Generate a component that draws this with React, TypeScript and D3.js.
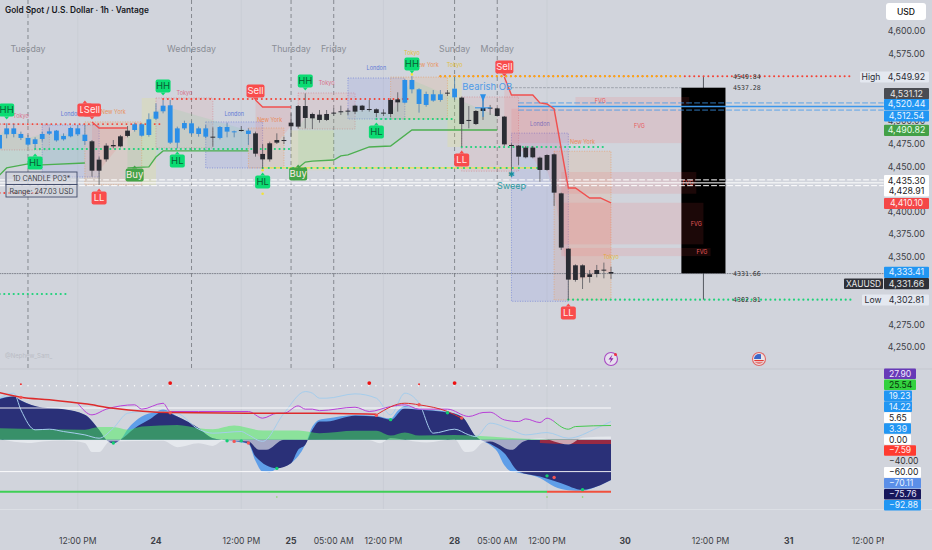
import * as d3 from 'd3';

// price candles, one row per hourly bar: open, high, low, close
const candles: number[][] = [
  [4470,4492,4466,4485],[4485.7,4497.9,4481.3,4492.3],[4486.1,4497.1,4482.4,4492.3],[4481.7,4488.7,4479.4,4486.1],
  [4474.3,4485,4472.1,4481.7],[4475,4482.4,4470.2,4480.2],[4480.6,4488.7,4477.6,4486.1],[4486.4,4493,4485,4489],
  [4479,4490.5,4477.6,4489.8],[4480.2,4486.8,4478.7,4483.9],[4483.5,4494.2,4482.4,4492.7],[4485.7,4496,4483.9,4492.3],
  [4478.3,4496,4473.9,4485.3],[4478,4479.4,4438.9,4445.5],[4457.7,4461,4429.7,4445.5],[4473.2,4475.8,4455.5,4458],
  [4473.9,4479.4,4470.2,4472.4],[4483.5,4485,4471.3,4472.4],[4489.8,4494.9,4482.4,4483.9],[4490.5,4498.6,4488.7,4496.8],
  [4484.2,4497.9,4483.1,4496.8],[4485,4508.9,4483.1,4502.3],[4503,4520,4501.6,4510.8],[4511.2,4523.7,4508.9,4517.4],
  [4476.5,4523.7,4475,4517.8],[4476.5,4494.2,4470.2,4492.3],[4492.3,4500.8,4490.5,4498.2],[4486.8,4500.8,4484.6,4497.9],
  [4486.1,4494.2,4483.1,4492.3],[4483.1,4496,4481.3,4492.3],[4483.1,4493.5,4472.1,4482.4],[4481.7,4494.9,4480.2,4493.8],
  [4488.7,4498.6,4482.4,4493.8],[4487.9,4489.8,4482.4,4489],[4490.5,4494.9,4488.7,4489.8],[4486.1,4492.3,4473.9,4489.8],
  [4486.8,4488.7,4461,4464.3],[4464,4475,4448,4458],[4475.8,4477.6,4455.5,4458],[4479.4,4486.8,4475,4476.5],
  [4479.4,4483.1,4475,4478.3],[4498.6,4508.9,4483.1,4494.6],[4517,4518.2,4492.3,4494.2],[4517,4531,4492.3,4503.8],
  [4508.2,4509.7,4491.6,4503.4],[4507.5,4512.6,4498.6,4501.6],[4508.2,4512.6,4500.5,4501.6],[4509.7,4514.4,4506,4508.9],
  [4511.2,4517.4,4507.1,4510.4],[4511.9,4514.4,4507.1,4511.2],[4517.4,4518.2,4508.2,4510.8],[4517.4,4518.2,4510.8,4512.6],
  [4513.7,4523.7,4510.8,4512.6],[4513.4,4514.4,4504.5,4509.3],[4509.7,4513.4,4506,4508.9],[4523.7,4525.5,4504.5,4508.2],
  [4524.4,4532.2,4510.8,4521.1],[4520.7,4546.5,4520,4545.8],[4535.5,4550.2,4531,4545.8],[4519.3,4536.6,4509.7,4535.5],
  [4518.2,4532.9,4516.3,4530.3],[4523,4534.7,4521.8,4530],[4523.7,4534.7,4521.8,4530],[4531.8,4534.7,4528.1,4530.7],
  [4526.6,4549.5,4523.7,4536.2],[4526.3,4527.4,4472.1,4497.1],[4501.6,4517,4492.3,4500.8],[4511.5,4512.6,4496,4497.1],
  [4514.8,4529.2,4501.6,4511.5],[4515.2,4518.2,4507.1,4514.4],[4514.4,4515.2,4505.3,4506],[4505.3,4506,4472.8,4474.6],
  [4473.9,4475.8,4445.5,4473.2],[4473.2,4473.9,4451.8,4461],[4471,4472.8,4459.2,4460.3],[4471,4472.8,4459.2,4460.3],
  [4459.9,4461,4433.3,4446.3],[4462.8,4463.6,4445.5,4446.3],[4463.6,4464.7,4406.4,4421.2],[4420.4,4421.2,4357.8,4360.4],
  [4359.2,4359.6,4302.5,4325],[4340.8,4341.9,4322.7,4324.6],[4340.8,4341.9,4314.6,4327.5],[4330.9,4335.6,4321.6,4327.9],
  [4335.6,4341.2,4327.5,4331.2],[4336,4343.8,4326.4,4335],[4333.4,4339.3,4325.7,4331.66],
];

// daily candle drawn to the right of the bars
const po3Bar = 99;
const po3Half = 3.1;
const po3 = {open: 4537.28, high: 4549.92, low: 4302.81, close: 4331.66};

// session boxes: name, first bar, last bar, top price, bottom price
const sessions: [string, number, number, number, number][] = [
  ['tokyo',0,7,4497.1,4468.4],['london',6,14,4496,4438.5],['ny',12,20,4499.4,4429.7],['asia',20,22,4525.9,4429.7],
  ['tokyo',22,30,4525.9,4470.6],['london',29,37,4499.4,4448.5],['ny',35,40,4492.7,4448.5],['asia',41,47,4490,4446],
  ['tokyo',42,50,4531.4,4491.6],['london',49,57,4548,4502.7],['ny',55,63,4549,4502.7],['asia',63,65,4549,4471.7],
  ['tokyo',65,73,4527,4445],['london',72,80,4487,4301],['ny',78,86,4467,4302.5],
];
const sessionLabels: [string, number, number][] = [
  ['Tokyo',3,4504],['London',10,4506],['New York',16,4508],['Tokyo',26,4529],['London',33,4506],['New York',38,4499],
  ['Tokyo',46,4540],['London',53,4557],['Tokyo',58,4573],['New York',60,4560],['Tokyo',64,4560],['London',76,4495],['New York',82,4475],['Tokyo',86,4348],
];
const yellowLabelBars = [58, 64, 86];

// fair value gaps: first bar, last bar, top, bottom, label, label bar
const fvgs: [number, number, number, number, string, number][] = [
  [81,97,4527,4518,'FVG',84.5],[72,96,4514,4476,'FVG',90],[79,98,4444,4420,'FVG',96.8],
  [79,99,4410,4364,'FVG',98],[79,100,4360,4351,'FVG',98.8],
];

// stair lines as bar, price
const supportLines: number[][][] = [
  [[0,4440.7],[1,4448.5],[4,4452.9],[6,4451.8],[12,4454]],
  [[18,4448.5],[21,4449.6],[22,4460.6],[23,4467.3],[35,4467.3]],
  [[42,4448.5],[43,4455],[44,4456],[47,4457.3],[48,4461.8],[49,4462.9],[52,4471.7],[55,4472.8],[58,4490.5],[70,4490.5]],
];
const resistLines: number[][][] = [
  [[13,4499.4],[14,4492.7],[18,4492.7]],
  [[36,4523.7],[37,4516],[41,4516]],
  [[71,4549.1],[72,4529.2],[75,4529.2],[76,4520.4],[77,4519.3],[78,4513.7],[80,4426.4],[81,4426.4],[83,4415.3],[84.5,4415.3],[86,4409.8]],
];

const dots = '0.1 4.6';

// horizontal levels: price, first bar, last bar, colour, dash, width
const levels: [number, number, number, string, string, number][] = [
  [4497,0,23,'#f44336',dots,1.9],[4524.8,23,58,'#f44336',dots,1.9],[4420.8,0,5.5,'#f44336',dots,1.9],
  [4549.92,62,120,'#f44336',dots,2],[4549.92,62,96,'#ffb300',dots,2],
  [4469.5,5,41,'#1fd27a',dots,2.1],[4502.7,53,64,'#1fd27a',dots,2.1],[4471.7,65,85,'#1fd27a',dots,2.1],
  [4448.5,37,76,'#e9e34a','',1.2],[4448.5,37,76,'#1fd27a','0.1 6',2.1],
  [4309.1,0,9.5,'#1fd27a',dots,2.1],[4302.81,80,120,'#1fd27a',dots,2.1],
  [4537.28,72,96,'#8a8f99','2 2',0.7],[4331.66,0,124.3,'#6b6f78','1 1.5',0.8],
  [4520.44,73,124.3,'#3d97ea','5 3',0.8],[4516.5,73,124.3,'#3d97ea','',1.4],[4512.54,73,124.3,'#3d97ea','5 3',0.8],
  [4435.3,0,124.3,'#ffffff','5 3',1],[4432,0,124.3,'#ffffff','',1],[4428.91,0,124.3,'#ffffff','5 3',1],
];

// swing and signal tags: text, bar, price
const tags: [string, number, number][] = [
  ['LL',12,4512.6],['HH',1,4512.6],['HH',23,4539.2],['HH',43,4544.7],['HH',58,4563.5],
  ['HL',5,4454],['HL',25,4456.2],['HL',37,4433],['HL',53,4488.3],
  ['LL',14,4415.3],['LL',65,4457.3],['LL',80,4288],
  ['Sell',13,4512.6],['Sell',36,4533.6],['Sell',71,4560.2],['Buy',19,4440.7],['Buy',42,4441.8],
];
const yellowMarks = [[37,4446],[37,4420],[58,4552]];

const dayBars = [4, 27, 41, 47, 64, 70];
const dayNames = ['Tuesday', 'Wednesday', 'Thursday', 'Friday', 'Sunday', 'Monday'];
const timeBars = [11, 22, 34, 41, 47, 54, 64, 70, 77, 88, 100, 111, 122.5];
const timeNames = ['12:00 PM', '24', '12:00 PM', '25', '05:00 AM', '12:00 PM', '28', '05:00 AM', '12:00 PM', '30', '12:00 PM', '31', '12:00 PM'];
const boldTimes = ['24', '25', '28', '30', '31'];

const priceTicks = [4600, 4575, 4500, 4475, 4450, 4400, 4375, 4350, 4275, 4250];

// right side price tags: text, price for y, fill, text colour
const priceTags: [string, number, string, string][] = [
  ['4,531.12',4530.7,'#4a4c52','#e8e8e8'],['4,520.44',4518.7,'#2196f3','#eaf4ff'],['4,512.54',4506,'#2196f3','#eaf4ff'],
  ['4,490.82',4490,'#43a047','#e8ffe8'],['4,435.30',4434.5,'#ffffff','#222'],['4,428.91',4423,'#ffffff','#222'],
  ['4,410.10',4409.2,'#f44747','#ffecec'],['4,333.41',4333,'#2196f3','#eaf4ff'],['4,331.66',4320.6,'#2e3038','#e8e8e8'],
];

// oscillator pane, bar and value pairs
const leadWave = [[0,78],[2,82],[3,74],[6,60],[9,57],[12,47],[14,18],[15,0],[16,-6],[17,0],[18,20],[20,44],[22,53],[23,57],[25,44],[28,22],[30,3],[32,-1],[34,-5],[35,-8],[36,-40],[37,-60],[38,-61],[39,-54],[41,-44],[43,-9],[44,25],[45,38],[46,40],[50,47],[53,45],[55,40],[56,55],[57,64],[59,58],[63,53],[65,44],[67,6],[69,-10],[70,-22],[71,-48],[72,-60],[73,-62],[76,-72],[78,-88],[80,-95],[82,-96],[84,-88],[86,-76]];
const mainWave = [[0,76.6],[2,81.7],[3,74.1],[6,60.9],[9,57.8],[12,47.1],[14,18.8],[15,0],[16,-6.4],[17,0],[19,22],[21,37.6],[23,53.4],[25,43.9],[28,22],[30,3],[32,-1],[35,-6.4],[36,-31.5],[39,-53.6],[41,-44.1],[42,-19],[43,-9.5],[44,18.8],[45,34.5],[46,34.5],[50,45.2],[53,43.9],[55,37.6],[57,59.7],[59,56.5],[63,51.5],[65,43.9],[67,6.2],[69,-7.6],[71,-25.3],[73,-59.8],[76,-69.3],[79,-81.9],[82,-94.4],[84,-88.2],[86,-75.76]];
const greenBand = [[0,22],[6,20],[12,19],[14,24],[16,24],[18,19],[20,25],[25,28],[28,22],[30,20],[33,27],[37,17.5],[42,17.5],[45,12.5],[50,17],[53,17],[55,8],[57,14],[59,8],[64,9],[67,7.5],[76,1],[86,0]];
const paleBand = [[0,1],[4,-6],[6,-3],[9,-1.5],[12,-6],[13,-23],[14,-23],[15.5,-3],[23,-2],[25,-14],[28,-6.5],[30,-11.5],[31.5,-2],[35,-3],[36.5,-19],[37.5,-19],[40,0],[52,-1],[53.5,-6.5],[55,3],[60,-5],[64,1],[65.5,-23],[66.5,-22],[68,-5],[69,-3],[72,-19],[73.7,-3],[76,3],[80,-9],[82,4],[86,6]];
const paleLine = [[0,78.5],[2,88],[3,56.5],[5,18.8],[7,20],[9,15.6],[12,9.3],[14,3],[16,22],[18,50],[20,53],[23,53],[25,50],[28,20],[30,12.5],[34,15.6],[35,9.3],[37,-3],[40,50],[43,91],[44,88],[45,78.5],[46,78.5],[50,86.7],[53,78.5],[55,47],[57,88],[59,69],[61,12.5],[64,20],[66,9.3],[67,6],[69,31.4],[72,18.8],[74,9.3],[77,13.7],[80,3],[84,22],[86,34.5]];
const purpleLine = [[11,69],[13,47],[15,57.8],[19,66],[20,57.8],[23,69],[24,53.4],[28,53.4],[35,53.4],[37,40.8],[39,50],[40,50],[42,64],[43,57.8],[44,57.8],[45,55],[50,61.5],[52,53.4],[55,62.8],[57,66],[59,57.8],[63,57.8],[66,44],[68,51.5],[69,52],[71,37.6],[73,34.5],[74,39.5],[76,32.6],[77,40.8],[78,34.5]];
const greenTail = [[78,34.5],[80,20],[81,25],[86,27]];
const redSlow = [[0,89],[3,80.4],[7,75.4],[12,67.8],[16,59.7],[24,51.5],[35,50.2],[45,50.2],[53,48.3]];
const redFast = [[53,47],[57,69],[59,66],[63,53.4],[65,40.8]];
const redBand = [[76,-6],[80,-8],[86,-8]];
const redDots = [[3,80],[24,51],[33,-3],[35,-6],[53,46],[59,66],[65,41],[78,-71]];
const greenDots = [[16,-6],[32,-2],[34,-2],[39,-54],[55,38],[63,51],[77,-68],[82,-94]];
const greenTicks = [39, 77, 82];
const bigTopDots = [24, 52, 64];
const smallTopDots = [3, 59];

// stacked tags on the right of the oscillator: text, fill, text colour, tag width
const oscTags: [string, string, string, number][] = [
  ['27.90','#673ab7','#f3eaff',32],['25.54','#33d13f','#06340a',32],['19.23','#2196f3','#eaf4ff',28],['14.22','#2196f3','#eaf4ff',28],
  ['5.65','#ffffff','#222',27],['3.39','#2196f3','#eaf4ff',27],['0.00','#ffffff','#222',27],['−7.59','#ff3b30','#ffecec',32],
  ['−40.00','none','#333',37],['−60.00','#ffffff','#222',37],['−70.11','#5b8fe8','#eaf4ff',37],['−75.76','#17175c','#e6e6ff',37],['−92.88','#2196f3','#eaf4ff',37],
];

const W = 932;
const H = 550;
const axisX = 884;
const uiFont = 'Inter, "Open Sans", sans-serif';
const monoFont = '"DejaVu Sans Mono", monospace';

// bar index to pixel, and the two value scales
const x = d3.scaleLinear().domain([0, 86]).range([-0.44, 611]);
const y = d3.scaleLinear().domain([4600, 4250]).range([31, 347.4]);
const osc = d3.scaleLinear().domain([60, -60]).range([408, 471.6]);

const priceLine = d3.line<number[]>().x(d => x(d[0])).y(d => y(d[1]));
const oscLine = d3.line<number[]>().x(d => x(d[0])).y(d => osc(d[1])).curve(d3.curveMonotoneX);
const oscArea = d3.area<number[]>().x(d => x(d[0])).y0(osc(0)).y1(d => osc(d[1])).curve(d3.curveMonotoneX);
const closeOf = (b: number) => candles[Math.min(86, Math.round(b))][3];
const stairArea = d3.area<number[]>().x(d => x(d[0])).y0(d => y(d[1])).y1(d => y(closeOf(d[0])));

const sessionColor: {[key: string]: [string, string]} = {
  tokyo: ['rgba(240,150,140,0.14)', '#d58a95'],
  london: ['rgba(110,130,235,0.14)', '#6f7fd8'],
  ny: ['rgba(250,160,90,0.15)', '#e6a06a'],
  asia: ['rgba(235,235,110,0.2)', 'none'],
};
const sessionText: {[key: string]: string} = {Tokyo: '#d8708a', London: '#5f79d6', 'New York': '#e8925a'};

const Tag = ({text, b, p}: {text: string, b: number, p: number}) => {
  const cx = x(b);
  const cy = y(p);
  const down = text === 'HH' || text === 'Sell';
  const fill = text === 'Sell' || text === 'LL' ? '#f94c4c' : text === 'Buy' ? '#43a547' : '#0bdc73';
  const color = text === 'Sell' || text === 'LL' || text === 'Buy' ? '#ffe9e9' : '#0a5c35';
  const w = text === 'Sell' || text === 'Buy' ? 18 : 15;
  const tip = down
    ? `M${cx - 2.5},${cy + 6.5}L${cx},${cy + 9.5}L${cx + 2.5},${cy + 6.5}Z`
    : `M${cx - 2.5},${cy - 6.5}L${cx},${cy - 9.5}L${cx + 2.5},${cy - 6.5}Z`;
  return <g>
    <rect x={cx - w / 2} y={cy - 6.5} width={w} height={13} rx={2} fill={fill} />
    <path d={tip} fill={fill} />
    <text x={cx} y={cy + 3.3} textAnchor="middle" fontSize={9.5} fill={color}>{text}</text>
  </g>;
};

export default function App() {
  return <svg width={W} height={H} viewBox={`0 0 ${W} ${H}`} fontFamily={uiFont}
    style={{position: 'absolute', left: 0, top: 0, background: '#d1d4dc'}}>
    <defs>
      <clipPath id="plot"><rect x={0} y={0} width={axisX} height={H} /></clipPath>
      <clipPath id="flag"><circle cx={759} cy={359} r={5} /></clipPath>
    </defs>

    {/* day separators */}
    {dayBars.map((b, i) => <g key={i}>
      <line x1={x(b)} x2={x(b)} y1={0} y2={368} stroke="#7d8087" strokeWidth={0.9} strokeDasharray="4 3" />
      <text x={x(b)} y={52} textAnchor="middle" fontSize={8.8} fill="#8b8e96">{dayNames[i]}</text>
    </g>)}
    {[11, 34, 54, 77].map(b => <line key={b} x1={x(b)} x2={x(b)} y1={0} y2={510} stroke="#c6c9d1" strokeWidth={0.6} />)}
    <line x1={0} x2={W} y1={369} y2={369} stroke="#c4c7cf" />
    <line x1={0} x2={W} y1={509.5} y2={509.5} stroke="#dcdfe5" />

    {/* sessions */}
    {sessions.map((s, i) => {
      const [fill, stroke] = sessionColor[s[0]];
      return <rect key={i} x={x(s[1])} y={y(s[3])} width={x(s[2]) - x(s[1])} height={y(s[4]) - y(s[3])}
        fill={fill} stroke={stroke} strokeWidth={0.7} strokeDasharray="1 1.5" />;
    })}
    {sessionLabels.map((s, i) => <text key={i} x={x(s[1])} y={y(s[2])} textAnchor="middle" fontSize={5.5}
      fill={yellowLabelBars.includes(s[1]) ? '#e0c040' : sessionText[s[0]]}>{s[0]}</text>)}

    {/* indicator fill */}
    {supportLines.map((l, i) => <path key={i} d={stairArea(l) ?? ''} fill="rgba(76,220,120,0.1)" />)}
    {resistLines.map((l, i) => <path key={i} d={stairArea(l) ?? ''} fill="rgba(255,82,82,0.11)" />)}

    {/* daily candle */}
    <line x1={x(po3Bar)} x2={x(po3Bar)} y1={y(po3.high)} y2={y(po3.low)} stroke="#555960" strokeWidth={1} />
    <rect x={x(po3Bar - po3Half)} y={y(po3.open)} width={x(po3Bar + po3Half) - x(po3Bar - po3Half)} height={y(po3.close) - y(po3.open)} fill="#000" />

    {/* gaps */}
    {fvgs.map((f, i) => <g key={i}>
      <rect x={x(f[0])} y={y(f[2])} width={x(f[1]) - x(f[0])} height={y(f[3]) - y(f[2])} fill="rgba(255,70,70,0.11)" />
      <text x={x(f[5])} y={y((f[2] + f[3]) / 2) + 2} textAnchor="middle" fontSize={5.5} fill="#e85b5b">{f[4]}</text>
    </g>)}

    {/* levels */}
    {levels.map((l, i) => <line key={i} x1={x(l[1])} x2={x(l[2])} y1={y(l[0])} y2={y(l[0])} stroke={l[3]} strokeDasharray={l[4]} strokeWidth={l[5]} strokeLinecap="round" />)}

    {/* stair lines */}
    {supportLines.map((l, i) => <path key={i} d={priceLine(l) ?? ''} fill="none" stroke="#4caf50" strokeWidth={1.3} />)}
    {resistLines.map((l, i) => <path key={i} d={priceLine(l) ?? ''} fill="none" stroke="#f0504f" strokeWidth={1.4} />)}

    {/* candles */}
    {candles.map((c, i) => {
      const up = c[3] > c[0];
      const color = up ? '#2b8fe8' : '#2a2c33';
      const top = y(Math.max(c[0], c[3]));
      const h = Math.max(1, y(Math.min(c[0], c[3])) - top);
      return <g key={i}>
        <line x1={x(i)} x2={x(i)} y1={y(c[1])} y2={y(c[2])} stroke={up ? '#4a7fae' : '#55575d'} strokeWidth={0.8} />
        <rect x={x(i) - 2.4} y={top} width={4.8} height={h} fill={color} />
      </g>;
    })}

    {/* order block and sweep */}
    <text x={x(68.6)} y={y(4535)} textAnchor="middle" fontSize={9.5} fill="#4f9be6">Bearish OB</text>
    <path d={`M${x(68) - 8},${y(4515)}H${x(68) + 8}M${x(68)},${y(4528)}V${y(4505)}`} stroke="#2b8fe8" strokeWidth={1} />
    <path d={`M${x(68) - 3},${y(4530)}H${x(68) + 3}L${x(68)},${y(4522)}Z`} fill="#2b8fe8" />
    <text x={x(72)} y={y(4442) + 3} textAnchor="middle" fontSize={8} fill="#1a8f9a">✱</text>
    <text x={x(72)} y={y(4428) + 3} textAnchor="middle" fontSize={9} fill="#2a9a9e">Sweep</text>

    {yellowMarks.map((m, i) => <circle key={i} cx={x(m[0])} cy={y(m[1])} r={1.3} fill="#f3e23a" />)}
    {tags.map((t, i) => <Tag key={i} text={t[0]} b={t[1]} p={t[2]} />)}

    {/* daily candle notes */}
    {[['4549.84', po3.high], ['4537.28', po3.open], ['4331.66', po3.close], ['4302.81', po3.low]].map((n, i) =>
      <text key={i} x={733} y={y(n[1] as number) + 2.5} fontFamily={monoFont} fontSize={6.6} fill="#333">{n[0]}</text>)}

    {/* range box */}
    <g fontSize={7} fill="#3b3e46" textAnchor="middle">
      <rect x={6} y={172} width={71} height={12.5} fill="rgba(209,212,220,0.55)" stroke="#414c6a" strokeWidth={0.9} />
      <rect x={6} y={184.5} width={71} height={12.5} fill="rgba(209,212,220,0.55)" stroke="#414c6a" strokeWidth={0.9} />
      <text x={41.5} y={181}>1D CANDLE PO3*</text>
      <text x={41.5} y={193.5}>Range: 247.03 USD</text>
    </g>

    {/* oscillator */}
    <path d={oscArea(leadWave) ?? ''} fill="#5f9ee8" />
    <path d={oscArea(mainWave) ?? ''} fill="#2a3078" />
    <path d={oscArea(redBand) ?? ''} fill="rgba(190,40,50,0.75)" />
    <path d={oscArea(paleBand) ?? ''} fill="rgba(240,243,247,0.62)" />
    <path d={oscArea(greenBand) ?? ''} fill="rgba(70,240,90,0.5)" />
    <path d={oscLine(paleLine) ?? ''} fill="none" stroke="#a5cdec" strokeWidth={1} />
    <line x1={x(0)} x2={x(86)} y1={osc(102)} y2={osc(102)} stroke="#fff" strokeWidth={1.3} strokeDasharray="0.1 7" strokeLinecap="round" />
    <line x1={x(0)} x2={x(86)} y1={osc(60)} y2={osc(60)} stroke="#fff" strokeWidth={0.9} />
    <line x1={x(0)} x2={x(86)} y1={osc(-60)} y2={osc(-60)} stroke="#fff" strokeWidth={0.9} />
    <line x1={x(0)} x2={x(77)} y1={osc(-98)} y2={osc(-98)} stroke="#3ecf55" strokeWidth={1.8} />
    <line x1={x(77)} x2={x(86)} y1={osc(-98)} y2={osc(-98)} stroke="#f0503c" strokeWidth={1.8} />
    <path d={oscLine(purpleLine) ?? ''} fill="none" stroke="#b83fd8" strokeWidth={1} />
    <path d={oscLine(greenTail) ?? ''} fill="none" stroke="#45c84f" strokeWidth={1} />
    <path d={oscLine(redSlow) ?? ''} fill="none" stroke="#dd2b2b" strokeWidth={1.5} />
    <path d={oscLine(redFast) ?? ''} fill="none" stroke="#dd2b2b" strokeWidth={1} />
    {redDots.map((d, i) => <circle key={i} cx={x(d[0])} cy={osc(d[1])} r={1.7} fill="#f25555" />)}
    {greenDots.map((d, i) => <circle key={i} cx={x(d[0])} cy={osc(d[1])} r={1.7} fill="#12cf73" />)}
    {greenTicks.map(b => <circle key={b} cx={x(b)} cy={osc(-108)} r={0.8} fill="#7ed957" />)}
    {bigTopDots.map(b => <circle key={b} cx={x(b)} cy={osc(107)} r={1.9} fill="#ee1111" />)}
    {smallTopDots.map(b => <circle key={b} cx={x(b)} cy={osc(105)} r={1} fill="#ee3333" />)}

    {/* markers under the pane */}
    <circle cx={611} cy={359} r={6.5} fill="#e6e0ee" stroke="#a94cc4" strokeWidth={1.1} />
    <path d="M612.5,354.5L608.5,359.5H611L609.5,363.5L613.5,358.3H611Z" fill="#8e24aa" />
    <circle cx={615.5} cy={354.5} r={1.5} fill="#ee3344" />
    <circle cx={759} cy={359} r={6.5} fill="#e9e4e6" stroke="#e06666" strokeWidth={1.1} />
    <g clipPath="url(#flag)">
      <rect x={754} y={360} width={10} height={1.2} fill="#e53935" />
      <rect x={754} y={362.4} width={10} height={1.2} fill="#e53935" />
      <rect x={754} y={354} width={7} height={5} fill="#3a66c8" />
    </g>
    <text x={5} y={358} fontSize={6} fill="#b9bcc4">@Nephew_Sam_</text>

    {/* title */}
    <text x={5} y={13} fontSize={8.3} fontWeight={600} fill="#16181d">Gold Spot / U.S. Dollar · 1h · Vantage</text>

    {/* price scale */}
    <rect x={886} y={3} width={40} height={17} rx={3} fill="#fff" />
    <text x={906} y={15} textAnchor="middle" fontSize={8.6} fontWeight={500} fill="#111">USD</text>
    {priceTicks.map(p => <text key={p} x={906.5} y={y(p) + 3} textAnchor="middle" fontSize={8.8} fill="#3d3f46">{d3.format(',.2f')(p)}</text>)}
    {priceTags.map((t, i) => <g key={i}>
      <rect x={884} y={y(t[1]) - 5.6} width={45} height={11.2} rx={1} fill={t[2]} />
      <text x={906.5} y={y(t[1]) + 3} textAnchor="middle" fontSize={8.8} fill={t[3]}>{t[0]}</text>
    </g>)}
    <rect x={844} y={278.5} width={39} height={10.5} rx={1} fill="#2e3038" />
    <text x={863.5} y={287} textAnchor="middle" fontSize={8.4} fill="#e8e8e8">XAUUSD</text>
    <rect x={860} y={71.5} width={69} height={11} rx={1} fill="#e4e8f0" />
    <text x={871} y={80} textAnchor="middle" fontSize={8.6} fill="#2a2c33">High</text>
    <text x={906.5} y={80} textAnchor="middle" fontSize={8.8} fill="#2a2c33">4,549.92</text>
    <rect x={862} y={294.5} width={67} height={11} rx={1} fill="#e4e8f0" />
    <text x={873} y={303} textAnchor="middle" fontSize={8.6} fill="#2a2c33">Low</text>
    <text x={906.5} y={303} textAnchor="middle" fontSize={8.8} fill="#2a2c33">4,302.81</text>

    {/* oscillator scale */}
    {oscTags.map((t, i) => <g key={i}>
      <rect x={884} y={368.5 + i * 10.95} width={t[3]} height={10.6} rx={1} fill={t[1]} />
      <text x={889} y={376.8 + i * 10.95} fontSize={8.6} fill={t[2]}>{t[0]}</text>
    </g>)}

    {/* time axis */}
    <g clipPath="url(#plot)">
      {timeBars.map((b, i) => <text key={i} x={x(b)} y={544} textAnchor="middle" fontSize={8.6}
        fontWeight={boldTimes.includes(timeNames[i]) ? 700 : 400} fill="#3d3f46">{timeNames[i]}</text>)}
    </g>
  </svg>;
}
